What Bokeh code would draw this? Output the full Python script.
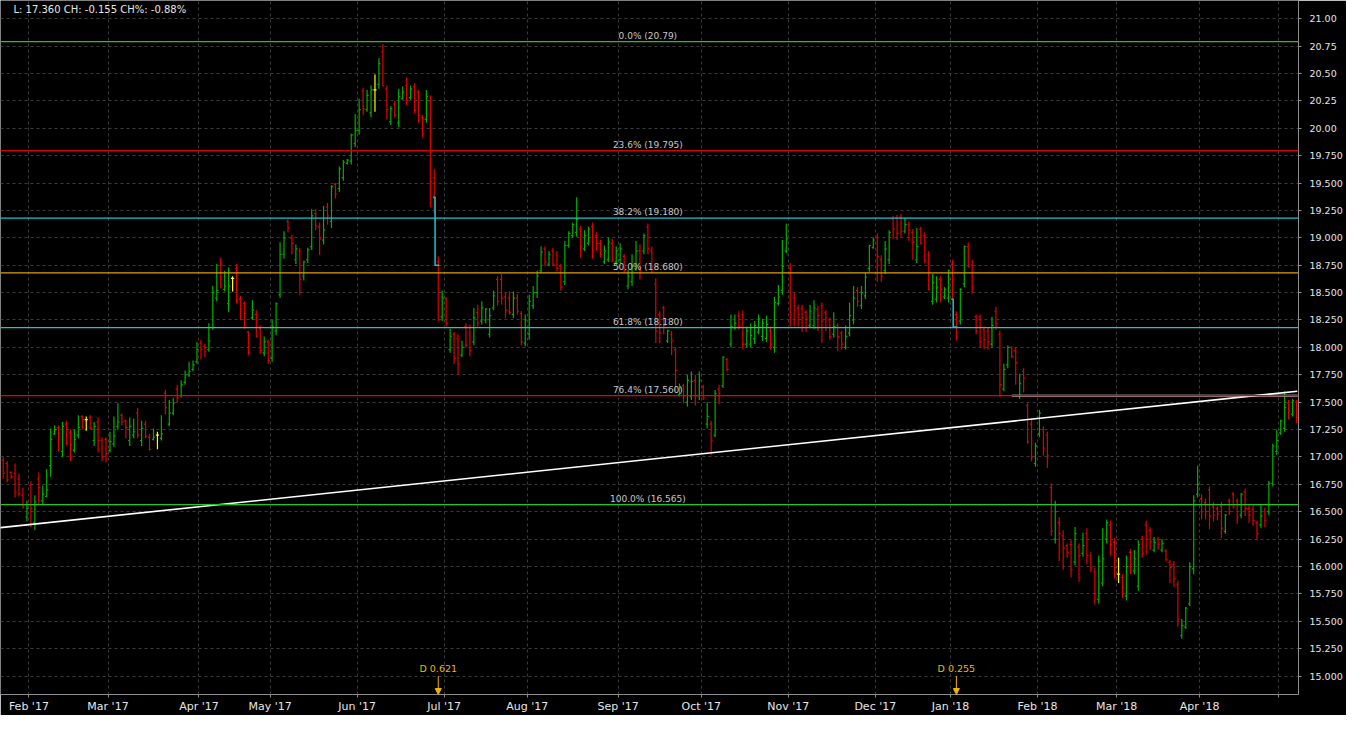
from bokeh.plotting import figure
from bokeh.models import Range1d, FixedTicker, Span, Label, Arrow, NormalHead, ColumnDataSource
from bokeh.embed import file_html
from bokeh.resources import INLINE

# ---------------- data (daily OHLC, trading-day index) ----------------
opens = [
    16.97, 16.94, 16.86, 16.85, 16.80, 16.65, 16.45, 16.74, 16.40, 16.80,
    16.60, 16.64, 16.92, 17.21, 17.27, 17.05, 17.30, 17.22, 17.06, 17.20,
    17.37, 17.34, 17.36, 17.15, 17.32, 17.15, 17.16, 17.06, 17.12, 17.28,
    17.38, 17.33, 17.15, 17.20, 17.40, 17.15, 17.30, 17.18, 17.16, 17.20,
    17.17, 17.58, 17.30, 17.40, 17.62, 17.56, 17.68, 17.75, 17.80, 17.87,
    18.04, 18.01, 17.98, 18.18, 18.45, 18.80, 18.53, 18.40, 18.63, 18.72,
    18.44, 18.40, 18.14, 18.27, 18.30, 18.17, 17.95, 18.05, 17.90, 18.15,
    18.48, 18.85, 19.15, 19.00, 18.80, 18.88, 18.65, 18.80, 18.92, 19.22,
    19.10, 18.98, 19.28, 19.15, 19.49, 19.45, 19.55, 19.68, 19.70, 19.86,
    19.98, 20.34, 20.17, 20.14, 20.35, 20.40, 20.70, 20.36, 20.06, 20.22,
    20.05, 20.27, 20.39, 20.28, 20.38, 20.33, 20.10, 20.08, 20.25, 19.55,
    18.78, 18.28, 18.44, 17.98, 18.12, 18.08, 17.93, 18.19, 18.18, 18.05,
    18.32, 18.24, 18.25, 18.12, 18.36, 18.62, 18.62, 18.46, 18.45, 18.30,
    18.45, 18.31, 18.04, 18.12, 18.38, 18.50, 18.70, 18.90, 18.76, 18.88,
    18.85, 18.74, 18.60, 18.93, 19.02, 19.05, 19.08, 18.90, 18.95, 19.10,
    19.02, 18.95, 18.78, 18.80, 18.95, 18.78, 18.80, 18.83, 18.56, 18.60,
    18.72, 18.88, 18.88, 19.10, 18.88, 18.58, 18.30, 18.36, 18.06, 18.12,
    17.98, 17.57, 17.65, 17.50, 17.55, 17.70, 17.56, 17.64, 17.30, 17.30,
    17.20, 17.62, 17.65, 17.89, 18.03, 18.18, 18.29, 18.30, 18.03, 18.03,
    18.08, 18.14, 18.10, 18.08, 18.15, 18.00, 18.40, 18.52, 18.88, 18.72,
    18.45, 18.36, 18.35, 18.32, 18.20, 18.20, 18.35, 18.38, 18.32, 18.25,
    18.12, 18.20, 18.13, 18.00, 18.13, 18.25, 18.52, 18.38, 18.47, 18.72,
    18.91, 19.00, 18.80, 18.70, 18.80, 19.17, 19.18, 19.19, 19.06, 19.12,
    19.05, 18.80, 19.08, 19.02, 18.85, 18.42, 18.44, 18.62, 18.46, 18.45,
    18.76, 18.30, 18.24, 18.58, 18.92, 18.75, 18.28, 18.28, 18.16, 18.15,
    18.03, 18.33, 18.12, 17.62, 17.84, 18.00, 17.97, 17.56, 17.78, 17.47,
    17.30, 16.94, 17.21, 17.25, 17.20, 16.72, 16.25, 16.40, 16.28, 16.19,
    16.20, 16.04, 16.18, 16.12, 16.30, 16.10, 15.95, 15.70, 15.85, 16.25,
    16.38, 16.22, 15.93, 15.90, 15.73, 16.13, 15.96, 15.82, 16.25, 16.38,
    16.33, 16.15, 16.25, 16.15, 16.14, 16.04, 16.02, 15.84, 15.37, 15.45,
    15.66, 15.98, 16.66, 16.62, 16.58, 16.70, 16.55, 16.53, 16.55, 16.32,
    16.60, 16.66, 16.60, 16.47, 16.68, 16.53, 16.52, 16.40, 16.38, 16.50,
    16.50, 16.76, 17.05, 17.22, 17.26, 17.49, 17.39, 17.50,
]
highs = [
    17.00, 16.96, 16.87, 16.94, 16.85, 16.72, 16.60, 16.78, 16.65, 16.86,
    16.74, 16.89, 17.26, 17.29, 17.29, 17.32, 17.33, 17.25, 17.25, 17.38,
    17.38, 17.37, 17.38, 17.32, 17.36, 17.18, 17.18, 17.23, 17.37, 17.49,
    17.40, 17.34, 17.36, 17.35, 17.45, 17.33, 17.33, 17.21, 17.26, 17.23,
    17.38, 17.61, 17.52, 17.54, 17.66, 17.70, 17.79, 17.87, 17.88, 18.05,
    18.07, 18.03, 18.22, 18.56, 18.76, 18.82, 18.70, 18.73, 18.65, 18.76,
    18.47, 18.42, 18.15, 18.43, 18.34, 18.20, 18.10, 18.07, 18.25, 18.41,
    18.96, 19.06, 19.17, 19.03, 18.94, 18.91, 18.79, 18.91, 19.26, 19.26,
    19.14, 19.29, 19.32, 19.48, 19.50, 19.65, 19.71, 19.72, 19.95, 20.13,
    20.27, 20.37, 20.35, 20.39, 20.49, 20.64, 20.77, 20.39, 20.20, 20.25,
    20.36, 20.38, 20.46, 20.39, 20.41, 20.35, 20.12, 20.35, 20.30, 19.63,
    18.83, 18.52, 18.46, 18.17, 18.14, 18.12, 18.06, 18.22, 18.21, 18.36,
    18.39, 18.42, 18.36, 18.36, 18.52, 18.65, 18.67, 18.50, 18.51, 18.51,
    18.49, 18.33, 18.30, 18.48, 18.56, 18.70, 18.92, 18.92, 18.88, 18.91,
    18.88, 18.76, 18.97, 19.06, 19.14, 19.37, 19.11, 19.07, 19.10, 19.14,
    19.05, 18.98, 18.93, 19.00, 18.99, 18.92, 18.95, 18.85, 18.71, 18.85,
    18.97, 18.94, 19.04, 19.13, 18.92, 18.63, 18.33, 18.38, 18.16, 18.15,
    18.00, 17.67, 17.67, 17.75, 17.78, 17.75, 17.78, 17.66, 17.50, 17.33,
    17.61, 17.66, 17.92, 17.90, 18.30, 18.30, 18.33, 18.34, 18.19, 18.22,
    18.24, 18.30, 18.26, 18.29, 18.19, 18.46, 18.57, 18.98, 19.13, 18.77,
    18.50, 18.39, 18.39, 18.34, 18.39, 18.43, 18.38, 18.41, 18.34, 18.27,
    18.32, 18.22, 18.15, 18.20, 18.41, 18.56, 18.55, 18.56, 18.68, 18.94,
    19.00, 19.04, 18.84, 18.97, 19.07, 19.20, 19.21, 19.22, 19.18, 19.15,
    19.08, 19.09, 19.10, 19.05, 18.88, 18.67, 18.65, 18.65, 18.55, 18.71,
    18.80, 18.33, 18.54, 18.93, 18.96, 18.80, 18.30, 18.30, 18.19, 18.18,
    18.28, 18.37, 18.15, 17.85, 18.02, 18.01, 18.00, 17.76, 17.81, 17.49,
    17.34, 17.13, 17.43, 17.28, 17.23, 16.76, 16.60, 16.45, 16.33, 16.21,
    16.24, 16.36, 16.21, 16.31, 16.35, 16.13, 15.99, 16.10, 16.35, 16.43,
    16.42, 16.26, 16.08, 15.93, 16.10, 16.16, 16.15, 16.24, 16.28, 16.42,
    16.36, 16.27, 16.27, 16.25, 16.16, 16.06, 16.05, 15.87, 15.52, 15.63,
    16.04, 16.65, 16.92, 16.66, 16.62, 16.73, 16.59, 16.55, 16.59, 16.48,
    16.62, 16.68, 16.62, 16.67, 16.71, 16.56, 16.56, 16.42, 16.56, 16.54,
    16.78, 17.12, 17.25, 17.34, 17.60, 17.52, 17.53, 17.52,
]
lows = [
    16.80, 16.77, 16.80, 16.63, 16.64, 16.53, 16.41, 16.36, 16.33, 16.56,
    16.56, 16.63, 16.82, 17.20, 17.05, 17.00, 17.11, 16.96, 17.04, 17.17,
    17.25, 17.24, 17.25, 17.10, 17.04, 16.96, 16.95, 17.04, 17.09, 17.25,
    17.29, 17.17, 17.10, 17.17, 17.17, 17.10, 17.17, 17.06, 17.15, 17.07,
    17.15, 17.39, 17.28, 17.38, 17.50, 17.54, 17.66, 17.73, 17.78, 17.85,
    17.89, 17.91, 17.96, 18.16, 18.42, 18.54, 18.51, 18.32, 18.51, 18.40,
    18.25, 18.17, 17.93, 18.25, 18.09, 17.94, 17.92, 17.85, 17.87, 18.11,
    18.45, 18.81, 19.05, 18.85, 18.76, 18.48, 18.61, 18.77, 18.89, 19.07,
    18.84, 18.94, 19.12, 19.09, 19.36, 19.42, 19.52, 19.67, 19.67, 19.83,
    19.94, 20.12, 20.15, 20.10, 20.15, 20.36, 20.38, 20.08, 20.03, 20.10,
    20.01, 20.26, 20.21, 20.26, 20.14, 20.05, 19.92, 20.05, 19.28, 19.22,
    18.24, 18.24, 18.19, 17.95, 17.85, 17.75, 17.91, 18.00, 17.92, 18.02,
    18.19, 18.21, 18.22, 18.09, 18.34, 18.38, 18.39, 18.27, 18.30, 18.27,
    18.30, 18.02, 18.01, 18.07, 18.35, 18.45, 18.68, 18.74, 18.74, 18.74,
    18.70, 18.52, 18.57, 18.91, 19.00, 19.01, 18.82, 18.88, 18.93, 18.81,
    18.88, 18.82, 18.76, 18.78, 18.78, 18.75, 18.77, 18.68, 18.53, 18.56,
    18.70, 18.62, 18.85, 18.85, 18.68, 18.04, 18.04, 18.12, 18.04, 17.93,
    17.60, 17.55, 17.49, 17.46, 17.52, 17.47, 17.52, 17.52, 17.26, 17.02,
    17.18, 17.48, 17.63, 17.78, 18.00, 18.16, 18.16, 17.98, 18.00, 18.00,
    18.03, 18.12, 18.06, 18.05, 17.98, 17.95, 18.38, 18.48, 18.86, 18.19,
    18.19, 18.19, 18.14, 18.14, 18.18, 18.17, 18.15, 18.04, 18.15, 18.07,
    18.09, 17.97, 17.98, 17.98, 18.10, 18.21, 18.37, 18.35, 18.44, 18.69,
    18.90, 18.60, 18.60, 18.67, 18.76, 18.99, 18.98, 19.00, 19.04, 18.97,
    18.80, 18.77, 18.94, 18.77, 18.52, 18.39, 18.41, 18.41, 18.44, 18.41,
    18.43, 18.06, 18.21, 18.55, 18.73, 18.49, 18.12, 18.00, 17.98, 17.98,
    18.00, 18.16, 17.55, 17.60, 17.81, 17.90, 17.66, 17.53, 17.59, 17.12,
    16.96, 16.91, 17.18, 17.01, 16.90, 16.28, 16.21, 16.05, 15.97, 16.08,
    15.90, 16.01, 15.86, 16.09, 16.02, 15.95, 15.65, 15.66, 15.82, 16.21,
    16.10, 15.89, 15.85, 15.71, 15.69, 15.93, 15.93, 15.78, 16.08, 16.11,
    16.15, 16.13, 16.15, 16.13, 16.05, 15.85, 15.81, 15.45, 15.34, 15.43,
    15.64, 15.93, 16.63, 16.43, 16.43, 16.34, 16.41, 16.42, 16.26, 16.30,
    16.47, 16.53, 16.39, 16.44, 16.46, 16.40, 16.37, 16.24, 16.35, 16.36,
    16.47, 16.73, 17.02, 17.20, 17.23, 17.34, 17.37, 17.31,
]
closes = [
    16.85, 16.79, 16.82, 16.68, 16.66, 16.54, 16.53, 16.53, 16.59, 16.72,
    16.66, 16.70, 17.16, 17.25, 17.21, 17.28, 17.12, 17.11, 17.16, 17.27,
    17.34, 17.34, 17.26, 17.28, 17.15, 17.00, 17.03, 17.14, 17.19, 17.32,
    17.32, 17.27, 17.28, 17.23, 17.20, 17.26, 17.19, 17.07, 17.18, 17.20,
    17.21, 17.45, 17.40, 17.49, 17.54, 17.66, 17.75, 17.78, 17.84, 17.98,
    17.98, 17.96, 18.06, 18.50, 18.52, 18.75, 18.56, 18.56, 18.63, 18.43,
    18.35, 18.31, 17.96, 18.34, 18.10, 17.97, 18.05, 17.88, 18.19, 18.40,
    18.85, 19.00, 19.09, 18.95, 18.90, 18.62, 18.78, 18.89, 19.20, 19.11,
    18.99, 19.07, 19.20, 19.47, 19.40, 19.63, 19.69, 19.71, 19.94, 19.98,
    20.17, 20.18, 20.30, 20.35, 20.35, 20.59, 20.39, 20.17, 20.18, 20.12,
    20.29, 20.33, 20.25, 20.36, 20.16, 20.12, 19.95, 20.29, 19.51, 19.37,
    18.64, 18.45, 18.22, 18.10, 17.90, 17.85, 18.00, 18.02, 17.97, 18.27,
    18.22, 18.36, 18.35, 18.29, 18.47, 18.42, 18.45, 18.34, 18.32, 18.45,
    18.33, 18.05, 18.25, 18.42, 18.50, 18.65, 18.87, 18.78, 18.85, 18.76,
    18.72, 18.55, 18.93, 19.04, 19.12, 19.17, 18.92, 19.02, 19.08, 18.89,
    18.95, 18.85, 18.88, 18.96, 18.80, 18.88, 18.90, 18.70, 18.65, 18.74,
    18.88, 18.70, 19.02, 18.90, 18.74, 18.15, 18.13, 18.20, 18.15, 18.06,
    17.79, 17.63, 17.56, 17.70, 17.69, 17.56, 17.70, 17.54, 17.37, 17.15,
    17.58, 17.58, 17.91, 17.80, 18.19, 18.22, 18.19, 18.03, 18.15, 18.11,
    18.20, 18.26, 18.22, 18.21, 18.03, 18.41, 18.46, 18.74, 18.99, 18.30,
    18.38, 18.30, 18.27, 18.26, 18.33, 18.36, 18.29, 18.24, 18.27, 18.10,
    18.19, 18.10, 18.03, 18.10, 18.29, 18.45, 18.42, 18.50, 18.64, 18.93,
    18.98, 18.83, 18.65, 18.90, 19.05, 19.08, 19.04, 19.06, 19.12, 19.07,
    18.96, 18.92, 18.95, 18.80, 18.53, 18.59, 18.55, 18.53, 18.53, 18.70,
    18.44, 18.27, 18.53, 18.92, 18.74, 18.55, 18.15, 18.05, 18.07, 18.05,
    18.20, 18.22, 17.66, 17.80, 18.00, 17.92, 17.86, 17.67, 17.72, 17.14,
    17.00, 17.10, 17.40, 17.08, 17.01, 16.32, 16.50, 16.30, 16.17, 16.13,
    15.97, 16.30, 16.10, 16.19, 16.10, 15.99, 15.75, 16.05, 16.07, 16.40,
    16.20, 15.99, 15.93, 15.81, 16.00, 16.00, 16.07, 16.20, 16.12, 16.25,
    16.23, 16.22, 16.20, 16.21, 16.06, 15.99, 15.89, 15.52, 15.46, 15.62,
    16.00, 16.60, 16.75, 16.50, 16.50, 16.46, 16.47, 16.48, 16.35, 16.47,
    16.50, 16.55, 16.45, 16.66, 16.53, 16.47, 16.42, 16.30, 16.46, 16.42,
    16.76, 17.10, 17.15, 17.33, 17.45, 17.42, 17.515, 17.36,
]

month_pos = [6.5, 26.5, 49.5, 67.5, 89.5, 111.5, 132.5, 155.5, 176.5,
             198.5, 220.5, 239.5, 261.5, 281.5, 302.5, 322.5]
month_labels = ["Feb '17", "Mar '17", "Apr '17", "May '17", "Jun '17", "Jul '17",
                "Aug '17", "Sep '17", "Oct '17", "Nov '17", "Dec '17", "Jan '18",
                "Feb '18", "Mar '18", "Apr '18", ""]

y_ticks = [15.0, 15.25, 15.5, 15.75, 16.0, 16.25, 16.5, 16.75, 17.0, 17.25,
           17.5, 17.75, 18.0, 18.25, 18.5, 18.75, 19.0, 19.25, 19.5, 19.75,
           20.0, 20.25, 20.5, 20.75, 21.0]
y_tick_labels = ["15.000", "15.250", "15.500", "15.750", "16.000", "16.250",
                 "16.500", "16.750", "17.000", "17.250", "17.500", "17.750",
                 "18.000", "18.250", "18.500", "18.750", "19.000", "19.250",
                 "19.500", "19.750", "20.00", "20.25", "20.50", "20.75", "21.00"]

fib_pcts = ["0.0%", "23.6%", "38.2%", "50.0%", "61.8%", "76.4%", "100.0%"]
fib_levels = [20.79, 19.795, 19.18, 18.68, 18.18, 17.56, 16.565]
fib_level_text = ["20.79", "19.795", "19.180", "18.680", "18.180", "17.560", "16.565"]
fib_colors = ["#1ec81e", "#d80000", "#18c8d2", "#e0a000", "#18c8d2", "#f00000", "#1ec81e"]

trend_x = [-0.68, 327.2]
trend_y = [16.355, 17.60]
level_x = [255.0, 327.3]
level_y = [17.56, 17.56]

div_idx = [110, 241]
div_amt = [0.621, 0.255]

header = "L: 17.360 CH: -0.155 CH%: -0.88%"

# ---------------- figure ----------------
XMIN, XMAX = -0.68, 327.5
YMIN, YMAX = 14.832, 21.166

p = figure(frame_width=1298, frame_height=694,
           x_range=Range1d(XMIN, XMAX), y_range=Range1d(YMIN, YMAX),
           y_axis_location="right", output_backend="svg", toolbar_location=None,
           background_fill_color="black", border_fill_color="black",
           min_border_left=0, min_border_top=0, min_border_right=48, min_border_bottom=20)
p.outline_line_color = None

GRID = "#3a3a3a"
AX = "#8c8c8c"
TXT = "#e6e6e6"

p.xaxis.ticker = FixedTicker(ticks=month_pos)
p.xaxis.major_label_overrides = {k: v for k, v in zip(month_pos, month_labels)}
p.yaxis.ticker = FixedTicker(ticks=y_ticks)
p.yaxis.major_label_overrides = {k: v for k, v in zip(y_ticks, y_tick_labels)}

for ax in (p.xaxis[0], p.yaxis[0]):
    ax.axis_line_color = AX
    ax.major_tick_line_color = AX
    ax.minor_tick_line_color = None
    ax.major_tick_out = 3
    ax.major_tick_in = 0
    ax.major_label_text_color = TXT
    ax.major_label_text_font = "DejaVu Sans"
p.xaxis.major_label_text_font_size = "11px"
p.xaxis.major_label_standoff = 2
p.yaxis.major_label_text_font_size = "9.5px"
p.yaxis.major_label_standoff = 8

for g in (p.xgrid[0], p.ygrid[0]):
    g.grid_line_color = GRID
    g.grid_line_dash = "3 3"
    g.grid_line_width = 1

# ---------------- OHLC bars ----------------
n = len(closes)
xs = list(range(n))
cols = ["#00b000" if c > o else ("#e00000" if c < o else "#ffff00") for o, c in zip(opens, closes)]
src = ColumnDataSource(dict(x=xs, xl=[i - 0.4 for i in xs], xr=[i + 0.4 for i in xs],
                            o=opens, h=highs, l=lows, c=closes, col=cols))
p.segment("x", "l", "x", "h", source=src, line_color="col", line_width=1.2)
p.segment("xl", "o", "x", "o", source=src, line_color="col", line_width=1.2)
p.segment("x", "c", "xr", "c", source=src, line_color="col", line_width=1.2)

# ---------------- Fibonacci levels ----------------
for lev, pct, txt, col in zip(fib_levels, fib_pcts, fib_level_text, fib_colors):
    p.add_layout(Span(location=lev, dimension="width", line_color=col, line_width=1.3))
    p.add_layout(Label(x=163, y=lev, text=f"{pct} ({txt})", text_align="center",
                       text_baseline="bottom", y_offset=1, text_font="DejaVu Sans",
                       text_font_size="9px", text_color="#c8c8c8"))

# ---------------- trend line and horizontal level (drawn above the levels) ----------------
p.line(trend_x, trend_y, line_color="white", line_width=1.6, level="annotation")
p.line(level_x, level_y, line_color="white", line_width=1.6, level="annotation")

# ---------------- dividend adjustments and markers ----------------
DIV = "#f0b400"
CYAN = "#18b8c8"
for di, amt in zip(div_idx, div_amt):
    prev = closes[di - 1]
    xv = di - 0.8
    p.line([xv - 0.5, xv, xv, xv + 1.1], [prev, prev, prev - amt, prev - amt],
           line_color=CYAN, line_width=1.6, level="annotation")
    p.add_layout(Arrow(end=NormalHead(size=6, fill_color=DIV, line_color=DIV),
                       x_start=di, y_start=15.0, x_end=di, y_end=YMIN,
                       line_color=DIV, line_width=1))
    p.add_layout(Label(x=di, y=15.065, text=f"D {amt}", text_align="center",
                       text_baseline="middle", text_font="DejaVu Sans",
                       text_font_size="9.5px", text_color=DIV))

p.add_layout(Label(x=2.6, y=21.086, text=header, text_align="left", text_baseline="middle",
                   text_font="DejaVu Sans", text_font_size="10px", text_color=TXT))

open("out.html", "w").write(file_html(p, INLINE))
